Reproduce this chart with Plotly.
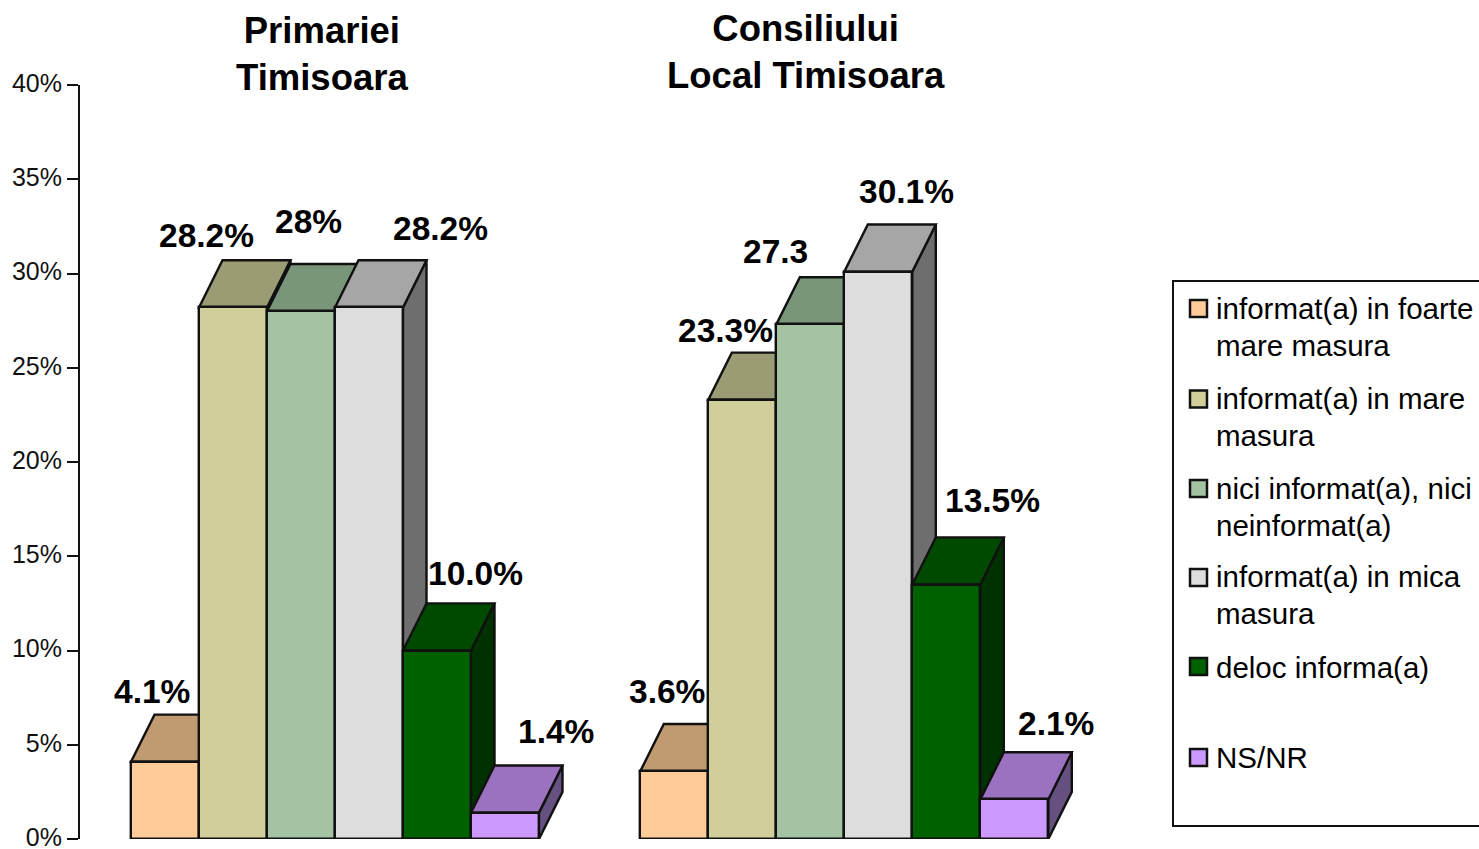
import plotly.graph_objects as go

series = ["informat(a) in foarte<br>mare masura", "informat(a) in mare<br>masura",
          "nici informat(a), nici<br>neinformat(a)", "informat(a) in mica<br>masura",
          "deloc informa(a)", "NS/NR"]
primaria = [4.1, 28.2, 28.0, 28.2, 10.0, 1.4]
consiliu = [3.6, 23.3, 27.3, 30.1, 13.5, 2.1]
labels_primaria = ["4.1%", "28.2%", "28%", "28.2%", "10.0%", "1.4%"]
labels_consiliu = ["3.6%", "23.3%", "27.3", "30.1%", "13.5%", "2.1%"]
front = ["#FFCC99", "#D0CF9B", "#A3C3A3", "#DDDDDD", "#006100", "#CC99FF"]
top = ["#C09A70", "#9C9C74", "#7A967A", "#A6A6A6", "#004A00", "#9B72C0"]
side = ["#806648", "#68684D", "#516451", "#6E6E6E", "#003100", "#66507F"]
yticks = [0, 5, 10, 15, 20, 25, 30, 35, 40]

# pixel geometry of the plot
L, R, T, B = 80, 1479, 85, 839
UNIT = 68.0
X0 = 131
def xd(px): return (px - X0) / UNIT - 0.5
def yd(py): return (B - py) / (B - T) * 40
def xp(px): return (px - L) / (R - L)
def yp(py): return (B - py) / (B - T)
G1, G2 = 0.0, 7.49
DX, DY = 23.5 / UNIT, 2.5
LINE = "#111"
LW = 2.4

fig = go.Figure()
shapes = []
for g, vals in ((G1, primaria), (G2, consiliu)):
    for i, v in enumerate(vals):
        x0, x1 = g + i - .5, g + i + .5
        shapes.append(dict(type="path", layer="below", fillcolor=side[i],
                           line=dict(color=LINE, width=LW),
                           path=f"M{x1},0 L{x1},{v} L{x1+DX},{v+DY} L{x1+DX},{DY} Z"))
        shapes.append(dict(type="path", layer="below", fillcolor=top[i],
                           line=dict(color=LINE, width=LW),
                           path=f"M{x0},{v} L{x1},{v} L{x1+DX},{v+DY} L{x0+DX},{v+DY} Z"))

for i, s in enumerate(series):
    fig.add_trace(go.Bar(x=[G1 + i, G2 + i], y=[primaria[i], consiliu[i]],
                         name=s.replace("<br>", " "), width=1, showlegend=False,
                         cliponaxis=False, hoverinfo="name+y",
                         marker=dict(color=front[i], line=dict(color=LINE, width=LW))))

label_px = [(152, 691), (206, 235), (308, 221), (440, 228), (475, 573), (556, 731),
            (667, 691), (725, 330), (775, 251), (906, 191), (992, 500), (1056, 723)]
anns = []
for txt, (px, py) in zip(labels_primaria + labels_consiliu, label_px):
    anns.append(dict(x=xd(px), y=yd(py), text=f"<b>{txt}</b>", showarrow=False,
                     xanchor="center", yanchor="middle",
                     font=dict(family="Liberation Sans", size=33.5, color="#000")))
for txt, px, py in (("Primariei<br>Timisoara", 322, 54), ("Consiliului<br>Local Timisoara", 806, 52)):
    anns.append(dict(x=xp(px), y=yp(py), xref="paper", yref="paper", yanchor="middle",
                     xanchor="center", text=f"<b>{txt}</b>", showarrow=False,
                     font=dict(family="Liberation Sans", size=36.5, color="#000")))

# legend panel: open on the right like the reference (runs off the page)
shapes.append(dict(type="rect", xref="paper", yref="paper", x0=xp(1173), x1=xp(1490),
                   y0=yp(826), y1=yp(281), fillcolor="white", line=dict(color=LINE, width=2)))
swatch_y = [308.5, 399, 488.5, 577.5, 666.5, 757.5]
text_y = [(308, 345), (398, 435), (488, 525), (576, 613), (667,), (757,)]
for i, s in enumerate(series):
    sy = swatch_y[i]
    shapes.append(dict(type="rect", xref="paper", yref="paper", x0=xp(1190), x1=xp(1207),
                       y0=yp(sy + 8.5), y1=yp(sy - 8.5), fillcolor=front[i],
                       line=dict(color=LINE, width=2.5)))
    for line_text, ty in zip(s.split("<br>"), text_y[i]):
        anns.append(dict(x=xp(1213.5), y=yp(ty), xref="paper", yref="paper", text=line_text,
                         showarrow=False, xanchor="left", yanchor="middle",
                         font=dict(family="Liberation Sans", size=29.5, color="#000")))

fig.update_layout(
    width=1479, height=849, margin=dict(l=L, r=1479 - R, t=T, b=849 - B, pad=0),
    paper_bgcolor="white", plot_bgcolor="white", barmode="overlay", bargap=0,
    font=dict(family="Liberation Sans", color="#000"),
    shapes=shapes, annotations=anns, showlegend=False,
    xaxis=dict(range=[xd(L), xd(R)], visible=False, fixedrange=True),
    yaxis=dict(range=[0, 40], tickvals=yticks, ticktext=[f"{t}%" for t in yticks],
               showline=True, linecolor=LINE, linewidth=2, ticks="outside", ticklen=11,
               tickwidth=2, tickcolor=LINE, showgrid=False, zeroline=False, fixedrange=True,
               ticklabelshift=-2, ticklabeloverflow="allow",
               tickfont=dict(size=25, color="#111"), automargin=False),
)
fig.write_html("out.html", post_script="document.body.style.margin='0';",
               config=dict(displayModeBar=False))
